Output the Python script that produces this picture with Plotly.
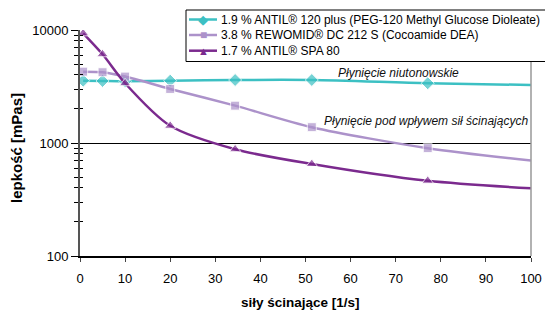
import plotly.graph_objects as go

shear = [0.7, 5, 10, 20, 34.4, 51.4, 77.1, 100]
antil120 = [3560, 3540, 3520, 3560, 3610, 3610, 3380, 3260]
rewomid = [4280, 4230, 3870, 3010, 2140, 1380, 900, 700]
spa80 = [9350, 6100, 3380, 1420, 880, 652, 463, 397]

names = ["1.9 % ANTIL® 120 plus (PEG-120 Methyl Glucose Dioleate)",
         "3.8 % REWOMID® DC 212 S (Cocoamide DEA)",
         "1.7 % ANTIL® SPA 80"]
colors = ["#3CC0C3", "#AC92CA", "#7B2A8E"]
symbols = ["diamond", "square", "triangle-up"]
sizes = [10, 9, 10]
glyphs = ["◆", "■", "▲"]
glyph_sizes = [13, 12, 11]

# plot area in pixels: x 80..531, y 30..256
PX0, PX1, PY0, PY1 = 80, 531, 30, 256
def px(x):
    return (x - PX0) / (PX1 - PX0)
def py(y):
    return (PY1 - y) / (PY1 - PY0)

fig = go.Figure()
for name, ys, c, s, sz in zip(names, [antil120, rewomid, spa80], colors, symbols, sizes):
    fig.add_trace(go.Scatter(
        x=shear, y=ys, name=name, mode="lines+markers", showlegend=False,
        line=dict(color=c, width=2.5, shape="spline", smoothing=0.8),
        marker=dict(symbol=s, color=c, size=[sz] * (len(shear) - 1) + [0]),
    ))

# overlay axis to draw the inner half of the crossing y ticks
fig.add_trace(go.Scatter(x=[None], y=[None], xaxis="x", yaxis="y2", showlegend=False,
                         hoverinfo="skip"))

def note(x, y, text, size, xanchor="center", angle=0, color="#000"):
    fig.add_annotation(x=px(x), y=py(y), xref="paper", yref="paper", xanchor=xanchor,
                       yanchor="middle", textangle=angle, text=text, showarrow=False,
                       font=dict(size=size, color=color))

note(398, 72.5, "<i>Płynięcie niutonowskie</i>", 12, color="#111")
note(530, 121, "<i>Płynięcie pod wpływem sił ścinających</i>", 12, xanchor="right", color="#111")

# axis titles
note(16, 148, "<b>lepkość [mPas]</b>", 15, angle=-90)
note(300, 302, "<b>siły ścinające [1/s]</b>", 13.5)

# right border
fig.add_shape(type="line", xref="paper", yref="paper", x0=1, x1=1, y0=0, y1=1,
              line=dict(color="#999", width=1.5))

# custom legend
fig.add_shape(type="rect", xref="paper", yref="paper", x0=px(186), x1=px(560),
              y0=py(61.5), y1=py(10), line=dict(color="#000", width=1),
              fillcolor="white", layer="above")
rows = [19.5, 35, 50.7]
for name, c, g, gs, ry in zip(names, colors, glyphs, glyph_sizes, rows):
    fig.add_shape(type="line", xref="paper", yref="paper", x0=px(189), x1=px(217),
                  y0=py(ry), y1=py(ry), line=dict(color=c, width=2.5), layer="above")
    note(203, ry, g, gs, color=c)
    note(219, ry, name, 12, xanchor="left")

fig.update_layout(
    width=545, height=311,
    margin=dict(l=80, r=14, t=30, b=55, autoexpand=False),
    paper_bgcolor="white", plot_bgcolor="white",
    font=dict(family="Liberation Sans, Arial", size=13, color="#000"),
    showlegend=False,
    xaxis=dict(range=[0, 100], dtick=10, showgrid=False, zeroline=False,
               showline=True, linecolor="#000", linewidth=1.5,
               ticks="outside", ticklen=4, tickcolor="#444",
               ticklabelstandoff=6, automargin=False),
    yaxis=dict(type="log", range=[2, 4], dtick=1, showgrid=True, gridcolor="#000", gridwidth=1,
               zeroline=False, showline=True, linecolor="#555", linewidth=2,
               ticks="outside", ticklen=7, tickcolor="#000", tickformat="d",
               minor=dict(ticks="outside", ticklen=4, tickcolor="#000", showgrid=False),
               automargin=False),
    yaxis2=dict(type="log", range=[2, 4], dtick=1, overlaying="y", side="left",
                showgrid=False, zeroline=False, showline=False, showticklabels=False,
                ticks="inside", ticklen=7, tickcolor="#000",
                minor=dict(ticks="inside", ticklen=3, tickcolor="#000", showgrid=False),
                automargin=False),
)

fig.write_html("out.html", config={"displayModeBar": False},
               post_script="document.body.style.margin='0';")
